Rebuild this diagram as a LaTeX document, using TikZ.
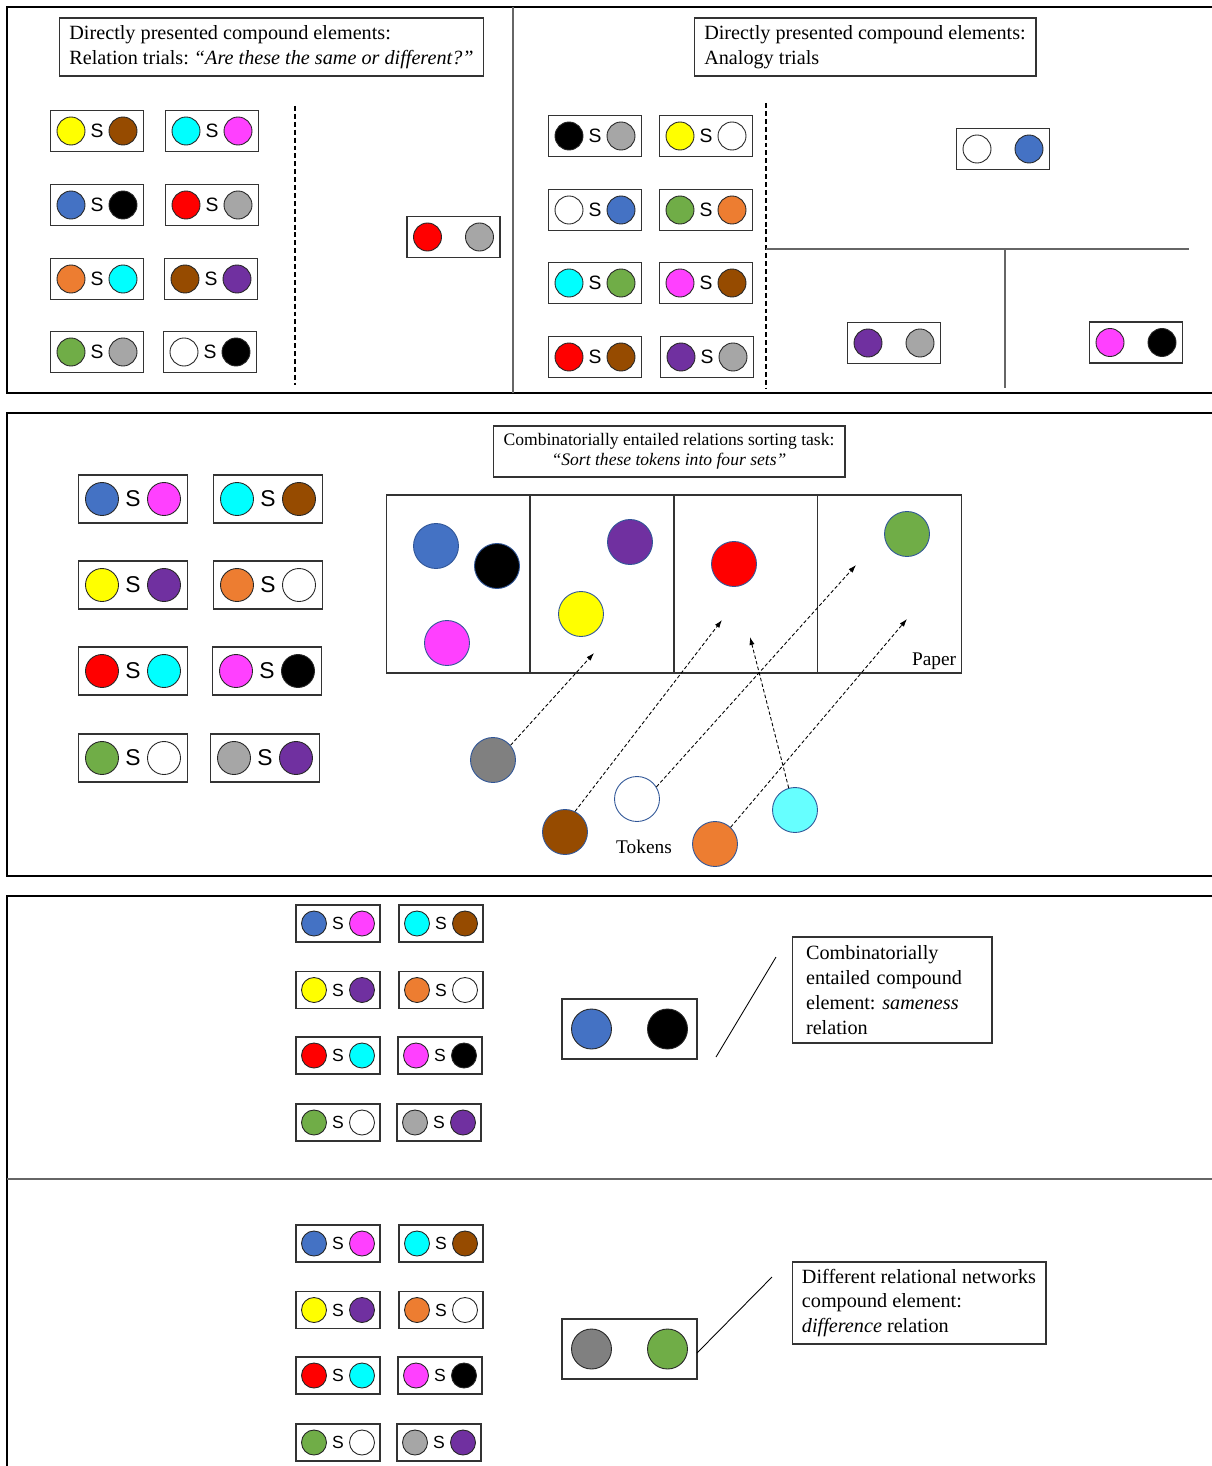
\documentclass[tikz,border=0pt]{standalone}
\usepackage{fontspec}
\setmainfont{Liberation Serif}
\setsansfont{Liberation Sans}
\usetikzlibrary{arrows.meta}
\frenchspacing

\definecolor{yel}{RGB}{255,255,0}
\definecolor{brn}{RGB}{150,75,0}
\definecolor{cya}{RGB}{0,255,255}
\definecolor{lcy}{RGB}{102,255,255}
\definecolor{mag}{RGB}{255,64,255}
\definecolor{blu}{RGB}{68,114,196}
\definecolor{rd}{RGB}{255,0,0}
\definecolor{gry}{RGB}{166,166,166}
\definecolor{dgr}{RGB}{128,128,128}
\definecolor{org}{RGB}{237,125,49}
\definecolor{pur}{RGB}{112,48,160}
\definecolor{grn}{RGB}{112,173,71}
\definecolor{tokedge}{RGB}{47,85,151}

\tikzset{
  frame/.style={line width=1.4pt},
  divline/.style={draw=black!60, line width=0.7pt},
  sepline/.style={dashed, dash pattern=on 2.8pt off 1.7pt, line width=0.6pt},
  pairbox/.style={draw=black!80, line width=0.8pt},
  dot/.style={circle, draw=black!85, line width=0.5pt, inner sep=0pt},
  tok/.style={circle, draw=tokedge, line width=0.5pt, inner sep=0pt, minimum size=0.9cm},
  slbl/.style={inner sep=0pt, font=\sffamily\fontsize{\sfs}{\sfs}\selectfont},
  txtbox/.style={draw=black!80, line width=0.6pt, align=left, font=\fontsize{11.5}{14.2}\selectfont},
  plain/.style={inner sep=0pt, font=\fontsize{10}{12}\selectfont},
  sortarrow/.style={dashed, dash pattern=on 2pt off 1.3pt, line width=0.5pt, -{Latex[length=4.5pt,width=3pt]}},
  callout/.style={line width=0.5pt},
}

% box with two discs and an S between them
\newcommand{\spair}[5]{%
  \draw[pairbox] ({#1-\pbw/2},{#2-\pbh/2}) rectangle ({#1+\pbw/2},{#2+\pbh/2});
  \node[dot, fill=#3, minimum size=\pdr*0.04cm] (#5-a) at ({#1-\pdd},#2) {};
  \node[dot, fill=#4, minimum size=\pdr*0.04cm] (#5-b) at ({#1+\pdd},#2) {};
  \node[slbl] (#5-s) at (#1,#2) {S};
}
% box with two discs only
\newcommand{\qpair}[5]{%
  \draw[pairbox] ({#1-\pbw/2},{#2-\pbh/2}) rectangle ({#1+\pbw/2},{#2+\pbh/2});
  \node[dot, fill=#3, minimum size=\pdr*0.04cm] (#5-a) at ({#1-\pdd},#2) {};
  \node[dot, fill=#4, minimum size=\pdr*0.04cm] (#5-b) at ({#1+\pdd},#2) {};
}

\begin{document}
\begin{tikzpicture}[x=0.02cm,y=-0.02cm]
\path[use as bounding box, fill=white] (0,0) rectangle (1211,1466);

% frames
\draw[frame] (1215,7)--(7,7)--(7,393)--(1215,393);
\draw[divline] (513,7)--(513,393);
\draw[frame] (1215,413)--(7,413)--(7,876)--(1215,876);
\draw[frame] (1215,896)--(7,896)--(7,1470);
\draw[divline] (7,1179)--(1215,1179);

% relation trials
\node[txtbox, minimum width=8.5cm, minimum height=1.16cm, text depth=0.5ex] (reltitle) at (271.5,47)
  {Directly presented compound elements:\\ Relation trials: \textit{“Are these the same or different?”}};
\def\pbw{93}\def\pbh{41}\def\pdr{14}\def\pdd{26}\def\sfs{11}
\foreach \cx/\cy/\ca/\cb/\n in {97/131/yel/brn/r1, 212/131/cya/mag/r2,
    97/205/blu/black/r3, 212/205/rd/gry/r4, 97/279/org/cya/r5, 211/279/brn/pur/r6,
    97/352/grn/gry/r7, 210/352/white/black/r8}
  {\spair{\cx}{\cy}{\ca}{\cb}{\n}}
\draw[sepline] (295,106)--(295,385);
\qpair{453.5}{237}{rd}{gry}{rq}

% analogy trials
\node[txtbox, minimum width=6.84cm, minimum height=1.16cm, text depth=0.5ex] (anatitle) at (865,47)
  {Directly presented compound elements:\\ Analogy trials};
\foreach \cx/\cy/\ca/\cb/\n in {595/136/black/gry/a1, 706/136/yel/white/a2,
    595/210/white/blu/a3, 706/210/grn/org/a4, 595/283/cya/grn/a5, 706/283/mag/brn/a6,
    595/357/rd/brn/a7, 707/357/pur/gry/a8}
  {\spair{\cx}{\cy}{\ca}{\cb}{\n}}
\draw[sepline] (766,103)--(766,388);
\draw[divline] (766,249)--(1189,249);
\draw[divline] (1005,249)--(1005,388);
\qpair{1003}{149}{white}{blu}{aq1}
\qpair{894}{343}{pur}{gry}{aq2}
\qpair{1136}{342.5}{mag}{black}{aq3}

% sorting task
\def\pbw{109}\def\pbh{48}\def\pdr{16.5}\def\pdd{31}\def\sfs{13}
\foreach \cx/\cy/\ca/\cb/\n in {133/499/blu/mag/m1, 268/499/cya/brn/m2,
    133/585/yel/pur/m3, 268/585/org/white/m4, 133/671/rd/cya/m5, 267/671/mag/black/m6,
    133/758/grn/white/m7, 265/758/gry/pur/m8}
  {\spair{\cx}{\cy}{\ca}{\cb}{\n}}
\node[txtbox, align=center, font=\fontsize{10}{11.4}\selectfont, minimum width=7.04cm, minimum height=1.02cm, text depth=0.4ex] (sorttitle) at (669,451.5)
  {Combinatorially entailed relations sorting task:\\ \textit{“Sort these tokens into four sets”}};
\draw[pairbox] (386.5,495) rectangle (961.5,673);
\foreach \xx in {530,674,817.5}
  \draw[pairbox] (\xx,495)--(\xx,673);
\node[tok, fill=blu] (p-blu) at (436,546) {};
\node[tok, fill=black] (p-blk) at (497,566) {};
\node[tok, fill=mag] (p-mag) at (447,643) {};
\node[tok, fill=pur] (p-pur) at (630,542) {};
\node[tok, fill=yel] (p-yel) at (581,614) {};
\node[tok, fill=rd] (p-red) at (734,564) {};
\node[tok, fill=grn] (p-grn) at (907,534) {};
\node[plain, font=\fontsize{11}{12}\selectfont] (paperlbl) at (934,661) {Paper};
\node[tok, fill=dgr] (t-gry) at (493,760) {};
\node[tok, fill=brn] (t-brn) at (565,832) {};
\node[tok, fill=white] (t-wht) at (637,799) {};
\node[tok, fill=org] (t-org) at (715,844) {};
\node[tok, fill=lcy] (t-cya) at (795,810) {};
\node[plain, font=\fontsize{11}{12}\selectfont] (toklbl) at (644,847) {Tokens};
\coordinate (e-gry) at (594,653);
\coordinate (e-brn) at (722,620);
\coordinate (e-wht) at (856,565);
\coordinate (e-cya) at (750,637);
\coordinate (e-org) at (907,619);
\draw[sortarrow] (t-gry.40) -- (e-gry);
\draw[sortarrow] (t-brn.64) -- (e-brn);
\draw[sortarrow] (t-wht.32) -- (e-wht);
\draw[sortarrow] (t-cya.106) -- (e-cya);
\draw[sortarrow] (t-org.47) -- (e-org);

% combinatorially entailed
\def\pbw{84}\def\pbh{37}\def\pdr{12.5}\def\pdd{24}\def\sfs{10}
\foreach \cx/\cy/\ca/\cb/\n in {338/923.5/blu/mag/c1, 441/923.5/cya/brn/c2,
    338/990/yel/pur/c3, 441/990/org/white/c4, 338/1055.5/rd/cya/c5, 440/1055.5/mag/black/c6,
    338/1122.5/grn/white/c7, 439/1122.5/gry/pur/c8}
  {\spair{\cx}{\cy}{\ca}{\cb}{\n}}
\def\pbw{135}\def\pbh{60}\def\pdr{20}\def\pdd{38}
\qpair{629.5}{1029}{blu}{black}{se}
\coordinate (se-l1) at (716,1057);
\coordinate (se-l2) at (776,957);
\draw[callout] (se-l1) -- (se-l2);
\node[txtbox, text width=3.44cm, inner xsep=0.28cm, minimum height=2.12cm] (samelbl) at (892,990)
  {Combinatorially\\ entailed compound\\ element: \textit{sameness}\\ relation};

% different networks
\def\pbw{84}\def\pbh{37}\def\pdr{12.5}\def\pdd{24}\def\sfs{10}
\foreach \cx/\cy/\ca/\cb/\n in {338/1243.5/blu/mag/d1, 441/1243.5/cya/brn/d2,
    338/1310/yel/pur/d3, 441/1310/org/white/d4, 338/1375.5/rd/cya/d5, 440/1375.5/mag/black/d6,
    338/1442.5/grn/white/d7, 439/1442.5/gry/pur/d8}
  {\spair{\cx}{\cy}{\ca}{\cb}{\n}}
\def\pbw{135}\def\pbh{60}\def\pdr{20}\def\pdd{38}
\qpair{629.5}{1349}{dgr}{grn}{df}
\coordinate (df-l1) at (697,1353);
\coordinate (df-l2) at (772,1277);
\draw[callout] (df-l1) -- (df-l2);
\node[txtbox, minimum width=5.08cm, minimum height=1.64cm] (difflbl) at (919,1303)
  {Different relational networks\\ compound element:\\ \textit{difference} relation};
\end{tikzpicture}
\end{document}
